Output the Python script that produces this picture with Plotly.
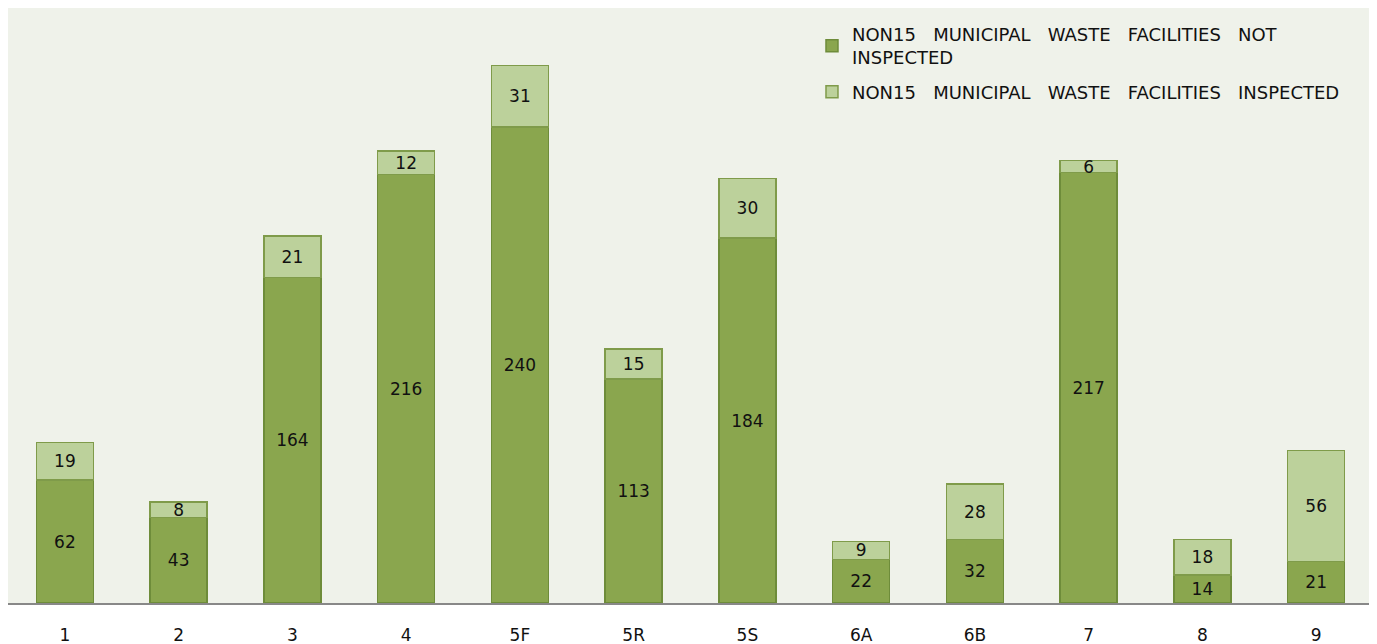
import plotly.graph_objects as go

categories = ["1", "2", "3", "4", "5F", "5R", "5S", "6A", "6B", "7", "8", "9"]
not_inspected = [62, 43, 164, 216, 240, 113, 184, 22, 32, 217, 14, 21]
inspected = [19, 8, 21, 12, 31, 15, 30, 9, 28, 6, 18, 56]

name_not = "NON15   MUNICIPAL   WASTE   FACILITIES   NOT<br>INSPECTED"
name_ins = "NON15   MUNICIPAL   WASTE   FACILITIES   INSPECTED"

font_family = "DejaVu Sans"

fig = go.Figure()
fig.add_trace(go.Bar(
    x=categories, y=not_inspected, name=name_not, legendgroup="a",
    marker=dict(color="#8aa64e", line=dict(color="#6e8c3a", width=1.5)),
    text=not_inspected, textposition="inside", insidetextanchor="middle",
    textangle=0,
    textfont=dict(color="#111111", size=17, family=font_family),
    constraintext="none", width=0.5,
))
fig.add_trace(go.Bar(
    x=categories, y=inspected, name=name_ins, legendgroup="b",
    marker=dict(color="#bcd19b", line=dict(color="#7f9b4a", width=1.5)),
    text=inspected, textposition="inside", insidetextanchor="middle",
    textangle=0,
    textfont=dict(color="#111111", size=17, family=font_family),
    constraintext="none", width=0.5,
))

fig.update_layout(
    barmode="stack",
    width=1369, height=636,
    margin=dict(l=0, r=4, t=0, b=41),
    paper_bgcolor="white",
    plot_bgcolor="#eff2ea",
    uniformtext=dict(minsize=17, mode="show"),
    showlegend=True,
    legend=dict(
        x=0.589, y=0.987, xanchor="left", yanchor="top",
        bgcolor="rgba(0,0,0,0)",
        font=dict(family=font_family, size=18, color="#111111"),
        traceorder="grouped",
        itemwidth=30,
        tracegroupgap=8,
    ),
    xaxis=dict(
        showgrid=False, showline=True, linecolor="#888888", linewidth=2,
        ticks="", ticklabelstandoff=16, automargin=False,
        tickfont=dict(family=font_family, size=17, color="#111111"),
    ),
    yaxis=dict(
        range=[0, 300], showgrid=False, showticklabels=False,
        zeroline=False, showline=False, automargin=False,
    ),
)

fig.write_html("out.html")
